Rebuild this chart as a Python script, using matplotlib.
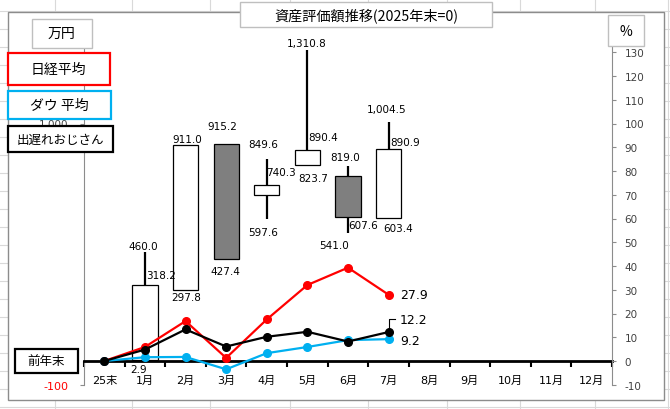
import numpy as np
import matplotlib
matplotlib.use('Agg')
import matplotlib.pyplot as plt
from matplotlib.patches import Rectangle
from matplotlib.lines import Line2D

plt.rcParams['font.family'] = ['DejaVu Sans', 'Noto Sans CJK JP']
plt.rcParams['axes.unicode_minus'] = False

# データ
months = ['25末', '1月', '2月', '3月', '4月', '5月', '6月',
          '7月', '8月', '9月', '10月', '11月', '12月']
# 資産評価額 (万円) 1月〜7月
c_open = [2.9, 297.8, 915.2, 697.0, 823.7, 778.0, 603.4]
c_high = [460.0, 911.0, 915.2, 849.6, 1310.8, 819.0, 1004.5]
c_low = [2.9, 297.8, 427.4, 597.6, 823.7, 541.0, 603.4]
c_close = [318.2, 911.0, 427.4, 740.3, 890.4, 607.6, 890.9]
# 騰落率 (%) 25末〜7月
nikkei = [0, 5.9, 16.8, 1.3, 17.5, 32.0, 39.3, 27.9]
dow = [0, 1.6, 1.7, -3.5, 3.3, 5.9, 8.8, 9.2]
ojisan = [0, 4.8, 13.3, 6.1, 10.2, 12.3, 8.2, 12.2]

# ラベル位置 (フィールド, dx, dy  単位px)
label_spec = [
    [('h', -2, 6), ('c', 16.5, 10.7), ('l', -6.5, -8.7)],
    [('c', 1.4, 5.6), ('o', 1, -7)],
    [('o', -4, 17.3), ('c', -1, -11.2)],
    [('h', -3.5, 15.2), ('c', 14.5, 12.9), ('l', -3.5, -12.6)],
    [('h', -1, 6.4), ('c', 16, 12.2), ('o', 6, -12.9)],
    [('h', -3, 9.2), ('c', 15, -8.3), ('l', -14, -12.5)],
    [('h', -1.6, 13.4), ('c', 16.4, 7.7), ('o', 9.4, -10.6)],
]

W, H = 670, 410
fig = plt.figure(figsize=(W / 100, H / 100), dpi=100)


def fx(x):
    return x / W


def fy(y):
    return 1 - y / H


# エクセルのセル線
for y in range(12, 410, 18):
    fig.add_artist(Line2D([0, 1], [fy(y), fy(y)], transform=fig.transFigure,
                          color='#d9d9d9', lw=0.8, zorder=-5))
for x in [55, 132, 210, 290, 368, 447, 520, 595, 668]:
    fig.add_artist(Line2D([fx(x), fx(x)], [0, 1], transform=fig.transFigure,
                          color='#d9d9d9', lw=0.8, zorder=-5))
# グラフエリア
fig.add_artist(Rectangle((fx(7.5), fy(401)), fx(664) - fx(7.5), fy(12.5) - fy(401),
                         transform=fig.transFigure, facecolor='white',
                         edgecolor='#8c8c8c', lw=1, zorder=-4))

# 軸の上端 y=48px, 0 は y=362px, 10% = 23.75px
top_px, zero_px, bot_px = 48, 362, 385.75
top_val = (zero_px - top_px) / 23.75 * 10

ax = fig.add_axes([fx(84), fy(bot_px), fx(612) - fx(84), fy(top_px) - fy(bot_px)])
ax.set_facecolor('none')
ax.set_xlim(-0.5, 12.5)
ax.set_ylim(-100, top_val * 10)

# ローソク足
w = 0.62
for i in range(len(c_open)):
    x = i + 1
    o, h, l, c = c_open[i], c_high[i], c_low[i], c_close[i]
    ax.vlines(x, l, h, color='black', lw=1.6, zorder=2)
    fc = 'white' if c >= o else '#7f7f7f'
    ax.add_patch(Rectangle((x - w / 2, min(o, c)), w, abs(c - o),
                           facecolor=fc, edgecolor='black', lw=0.9, zorder=3))
    vals = {'o': o, 'h': h, 'l': l, 'c': c}
    for key, dx, dy in label_spec[i]:
        ax.annotate(f'{vals[key]:,.1f}', (x, vals[key]), xytext=(dx, dy),
                    textcoords='offset pixels', ha='center', va='center',
                    fontsize=7.5, color='black', zorder=5,
                    annotation_clip=False)

ax.spines['top'].set_visible(False)
ax.spines['right'].set_visible(False)
ax.spines['left'].set_color('#8c8c8c')
ax.spines['left'].set_linewidth(0.8)
ax.spines['bottom'].set_position(('data', 0))
ax.spines['bottom'].set_color('black')
ax.spines['bottom'].set_linewidth(2)

ax.set_yticks([-100, 1000])
ax.set_yticklabels(['-100', '1,000'])
ax.tick_params(axis='y', length=3, color='#8c8c8c', labelsize=7.5, pad=8,
               labelcolor='#404040')
ax.get_yticklabels()[0].set_color('red')
ax.get_yticklabels()[0].set_fontsize(8)

ax.set_xticks(range(len(months)))
ax.set_xticklabels(months)
ax.set_xticks(np.arange(-0.5, 13, 1), minor=True)
ax.tick_params(axis='x', which='major', length=0, labelsize=8, pad=10)
ax.tick_params(axis='x', which='minor', length=4, width=1.5, color='black',
               direction='out')

# 騰落率
ax2 = ax.twinx()
ax2.set_ylim(-10, top_val)
for s in ['top', 'left', 'bottom']:
    ax2.spines[s].set_visible(False)
ax2.spines['right'].set_color('#8c8c8c')
ax2.spines['right'].set_linewidth(0.8)
rt = list(range(-10, 131, 10))
ax2.set_yticks(rt)
ax2.set_yticklabels([str(v) for v in rt])
ax2.tick_params(axis='y', length=3, color='#8c8c8c', labelsize=7.5, pad=6,
                labelcolor='#404040')

xs = range(len(nikkei))
ax2.plot(xs, nikkei, color='#ff0000', lw=1.6, marker='o', ms=5.5, zorder=3)
ax2.plot(xs, dow, color='#00b0f0', lw=1.6, marker='o', ms=5.5, zorder=3)
ax2.plot(xs, ojisan, color='black', lw=1.6, marker='o', ms=5.5, zorder=4)

last = len(nikkei) - 1
ax2.annotate(f'{nikkei[-1]:.1f}', (last, nikkei[-1]), xytext=(11.5, 0),
             textcoords='offset pixels', ha='left', va='center', fontsize=9)
ax2.annotate(f'{ojisan[-1]:.1f}', (last, ojisan[-1]), xytext=(11.5, 13),
             textcoords='offset pixels', ha='left', va='center', fontsize=9)
ax2.annotate(f'{dow[-1]:.1f}', (last, dow[-1]), xytext=(11.5, -1),
             textcoords='offset pixels', ha='left', va='center', fontsize=9)
# 引き出し線
yb = ojisan[-1]
ax2.plot([last, last, last + 0.16], [yb + 1.3, yb + 5.5, yb + 5.5],
         color='black', lw=0.8, zorder=4)


def box(x0, y0, x1, y1, text, ec, lw, fs):
    fig.add_artist(Rectangle((fx(x0), fy(y1)), fx(x1) - fx(x0), fy(y0) - fy(y1),
                             transform=fig.transFigure, facecolor='white',
                             edgecolor=ec, lw=lw, zorder=6))
    fig.text(fx((x0 + x1) / 2), fy((y0 + y1) / 2), text, ha='center',
             va='center', fontsize=fs, zorder=7,
             family=['Noto Sans CJK JP', 'DejaVu Sans'])


box(240, 2.5, 492, 28, '資産評価額推移(2025年末=0)', '#bfbfbf', 1, 10.2)
box(31.5, 19.5, 92, 49, '万円', '#bfbfbf', 1, 10)
box(608, 16, 644, 47, '%', '#bfbfbf', 1, 10)
box(7.5, 53.5, 110, 86, '日経平均', '#ff0000', 1.6, 10)
box(7.5, 92, 111, 120, 'ダウ 平均', '#00b0f0', 1.6, 10)
box(7.5, 127, 113, 153, '出遅れおじさん', 'black', 1.6, 9)
box(14.5, 349.5, 78, 374, '前年末', 'black', 1.6, 9)

fig.savefig('out.png', dpi=100)
